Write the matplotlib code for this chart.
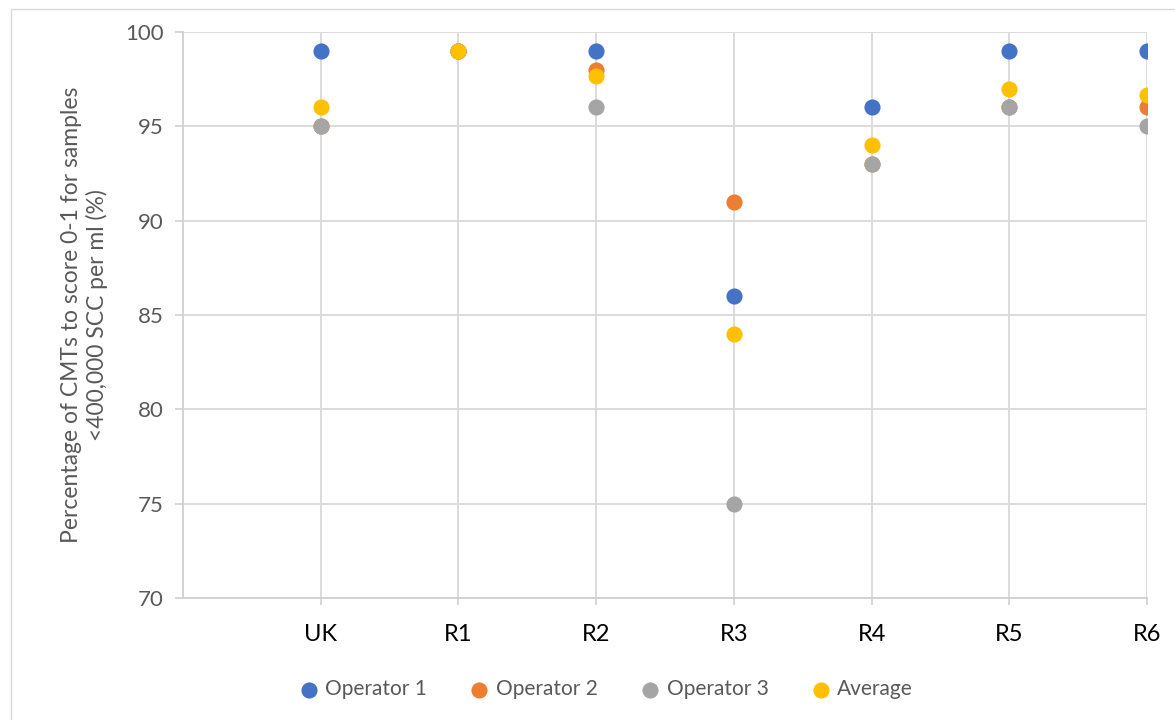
import matplotlib.pyplot as plt
from matplotlib.patches import Rectangle

categories = ["UK", "R1", "R2", "R3", "R4", "R5", "R6"]
operator1 = [99, 99, 99, 86, 96, 99, 99]
operator2 = [95, 99, 98, 91, 93, 96, 96]
operator3 = [95, 99, 96, 75, 93, 96, 95]
average = [96, 99, 97.67, 84, 94, 97, 96.67]

series = [
    ("Operator 1", operator1, "#4472C4"),
    ("Operator 2", operator2, "#ED7D31"),
    ("Operator 3", operator3, "#A5A5A5"),
    ("Average", average, "#FFC000"),
]

plt.rcParams['font.family'] = ['Lato', 'DejaVu Sans']

fig = plt.figure(figsize=(11.75, 7.2), dpi=100)
fig.patches.append(Rectangle((0.009, -0.01), 1.2, 0.997, transform=fig.transFigure,
                             facecolor="none", edgecolor="#D9D9D9", lw=1))
ax = fig.add_axes([0.1557, 0.1694, 0.8205, 0.7862])

x = list(range(1, len(categories) + 1))
for name, vals, col in series:
    ax.scatter(x, vals, s=135, color=col, label=name, zorder=3, linewidths=0)

ax.set_xlim(0, len(categories))
ax.set_ylim(70, 100)
ax.set_yticks(range(70, 101, 5))
ax.set_xticks(x)
ax.set_xticklabels(categories, fontsize=17, color="#000000")
ax.tick_params(axis="y", labelsize=16, labelcolor="#595959", color="#D0D0D0",
               length=6, width=1.2, pad=8)
ax.tick_params(axis="x", color="#D0D0D0", length=5, width=1.2, pad=14)
ax.grid(True, color="#D9D9D9", lw=1.3, zorder=0)
for s in ["top", "right"]:
    ax.spines[s].set_visible(False)
for s in ["left", "bottom"]:
    ax.spines[s].set_color("#D0D0D0")
    ax.spines[s].set_linewidth(1.3)

ax.set_ylabel("Percentage of CMTs to score 0-1 for samples\n<400,000 SCC per ml (%)",
              fontsize=16.5, color="#595959", labelpad=12, linespacing=1.2)

leg = ax.legend(loc="upper center", bbox_to_anchor=(0.433, -0.11), ncol=4,
                frameon=False, fontsize=15, handletextpad=-0.2, columnspacing=1.5,
                markerscale=1.0)
for t in leg.get_texts():
    t.set_color("#595959")

fig.savefig("out.png", dpi=100)
